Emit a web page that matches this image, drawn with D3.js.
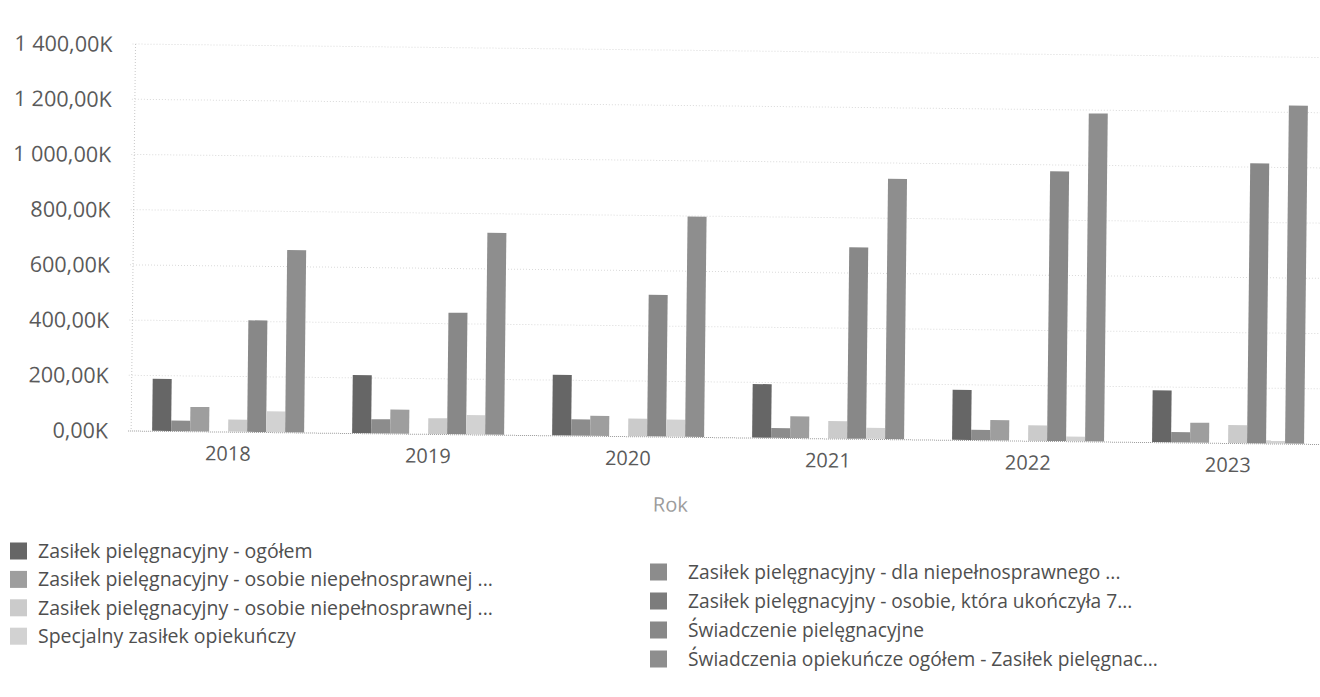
<!DOCTYPE html>
<html lang="pl">
<head>
<meta charset="utf-8">
<script src="https://cdn.jsdelivr.net/npm/d3@7"></script>
<style>
  html, body { margin: 0; padding: 0; background: #fff; }
  svg { display: block; }
  text { font-family: "Open Sans", "Noto Sans", sans-serif; }
</style>
</head>
<body>
<svg id="chart" width="1320" height="697"></svg>
<script>
// Years on the category axis
const years = ["2018", "2019", "2020", "2021", "2022", "2023"];

// Series names as shown in the legend (row by row)
const seriesNames = [
  "Zasiłek pielęgnacyjny - ogółem",
  "Zasiłek pielęgnacyjny - dla niepełnosprawnego ...",
  "Zasiłek pielęgnacyjny - osobie niepełnosprawnej ...",
  "Zasiłek pielęgnacyjny - osobie, która ukończyła 7...",
  "Zasiłek pielęgnacyjny -  osobie niepełnosprawnej ...",
  "Świadczenie pielęgnacyjne",
  "Specjalny zasiłek opiekuńczy",
  "Świadczenia opiekuńcze ogółem - Zasiłek pielęgnac..."
];

// Values in thousands (K), one array per series, ordered by year
const zasilekOgolem        = [188, 210, 219, 194, 181, 188];
const dlaNiepelnosprawnego = [38, 51, 59, 35, 37, 37];
const niepelnosprawnejA    = [88, 87, 72, 79, 73, 72];
const ukonczyla75          = [0, 0, 0, 0, 0, 0];
const niepelnosprawnejB    = [44, 57, 64, 63, 56, 65];
const swiadczeniePiel      = [404, 440, 513, 693, 977, 1014];
const specjalnyZasilek     = [75, 70, 62, 40, 17, 11];
const opiekuczeOgolem      = [660, 731, 798, 943, 1188, 1225];

const seriesValues = [
  zasilekOgolem, dlaNiepelnosprawnego, niepelnosprawnejA, ukonczyla75,
  niepelnosprawnejB, swiadczeniePiel, specjalnyZasilek, opiekuczeOgolem
];

// Value-axis ticks and their labels
const yTickValues = [0, 200, 400, 600, 800, 1000, 1200, 1400];
const yTickLabels = ["0,00K", "200,00K", "400,00K", "600,00K", "800,00K", "1 000,00K", "1 200,00K", "1 400,00K"];

const axisTitle = "Rok";

// Grey tones of the series
const colors = ["#666666", "#8c8c8c", "#9e9e9e", "#7c7c7c", "#cbcbcb", "#888888", "#d2d2d2", "#8e8e8e"];

const svg = d3.select("#chart");
// the plot area sits very slightly rotated
const root = svg.append("g").attr("transform", "rotate(0.65)");

const plotLeft = 133, plotRight = 1333, plotTop = 42.5, plotBottom = 429;

const x = d3.scaleBand().domain(years).range([plotLeft, plotRight])
  .paddingInner(0.24).paddingOuter(0.12);
const xInner = d3.scaleBand().domain(d3.range(seriesNames.length))
  .range([0, x.bandwidth()]).padding(0);
const y = d3.scaleLinear().domain([0, 1400]).range([plotBottom, plotTop]);

// gridlines
root.append("g").selectAll("line")
  .data(yTickValues.filter(v => v > 0))
  .join("line")
  .attr("x1", plotLeft).attr("x2", plotRight)
  .attr("y1", d => y(d)).attr("y2", d => y(d))
  .attr("stroke", "#d9d9d9").attr("stroke-width", 1)
  .attr("stroke-dasharray", "1,2");

// left edge of the plot
root.append("line")
  .attr("x1", plotLeft + 3).attr("x2", plotLeft + 3)
  .attr("y1", plotTop).attr("y2", plotBottom)
  .attr("stroke", "#c8c8c8").attr("stroke-dasharray", "1,2");

// value axis
const yAxis = d3.axisLeft(y)
  .tickValues(yTickValues)
  .tickFormat((d, i) => yTickLabels[i])
  .tickSize(0).tickPadding(0);
const yg = root.append("g").attr("transform", `translate(${plotLeft - 20},0)`).call(yAxis);
yg.select(".domain").remove();
yg.selectAll("text")
  .attr("fill", "#5a5a5a").attr("font-size", 21.5).attr("dy", "0.35em");

// bars
const groups = root.append("g").selectAll("g")
  .data(years)
  .join("g")
  .attr("transform", d => `translate(${x(d)},0)`);

groups.selectAll("rect")
  .data((yr, yi) => seriesValues.map((vals, si) => ({ si, v: vals[yi] })))
  .join("rect")
  .attr("x", d => xInner(d.si))
  .attr("width", xInner.bandwidth())
  .attr("y", d => y(d.v))
  .attr("height", d => y(0) - y(d.v))
  .attr("fill", d => colors[d.si]);

// baseline
root.append("line")
  .attr("x1", plotLeft).attr("x2", plotRight)
  .attr("y1", y(0) + 0.5).attr("y2", y(0) + 0.5)
  .attr("stroke", "#9a9a9a").attr("stroke-dasharray", "1,1");

// category axis
const xAxis = d3.axisBottom(x).tickSize(0).tickPadding(0);
const xg = root.append("g").attr("transform", `translate(0,${y(0) + 22})`).call(xAxis);
xg.select(".domain").remove();
xg.selectAll("text")
  .attr("fill", "#5a5a5a").attr("font-size", 20).attr("dy", "0.35em")
  .attr("font-family", "\"Open Sans\", sans-serif");

// axis title
root.append("text")
  .attr("x", 676).attr("y", 497).attr("dy", "0.35em")
  .attr("text-anchor", "middle")
  .attr("fill", "#9c9c9c").attr("font-size", 20)
  .text(axisTitle);

// legend, two columns filled row by row
const legendCols = [
  { sx: 10, tx: 38, y0: 551, dy: 28.4, fs: 19.5 },
  { sx: 650, tx: 688, y0: 572, dy: 29, fs: 19.2 }
];
const legend = svg.append("g").selectAll("g")
  .data(seriesNames.map((name, i) => ({ name, i })))
  .join("g")
  .attr("transform", d => {
    const c = legendCols[d.i % 2];
    return `translate(0,${c.y0 + Math.floor(d.i / 2) * c.dy})`;
  });
legend.append("rect")
  .attr("x", d => legendCols[d.i % 2].sx)
  .attr("y", -8.5).attr("width", 17).attr("height", 17)
  .attr("fill", d => colors[d.i]);
legend.append("text")
  .attr("x", d => legendCols[d.i % 2].tx)
  .attr("dy", "0.35em")
  .attr("fill", "#4f4f4f")
  .attr("font-size", d => legendCols[d.i % 2].fs)
  .text(d => d.name);
</script>
</body>
</html>
